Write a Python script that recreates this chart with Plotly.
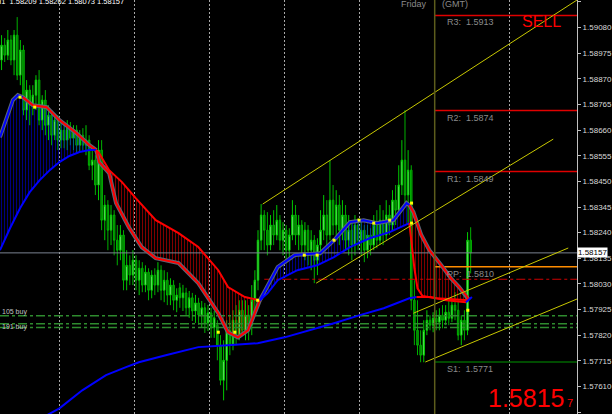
import plotly.graph_objects as go

# ---------------- data ----------------
bar_index = list(range(151))
opens = [1.58947,1.59008,1.58967,1.59029,1.58947,1.59049,1.58885,1.58988,1.58742,1.58824,
1.58762,1.58803,1.58865,1.58701,1.58783,1.58680,1.58721,1.58639,1.58701,1.58619,
1.58660,1.58619,1.58668,1.58627,1.58660,1.58598,1.58639,1.58598,1.58619,1.58516,
1.58537,1.58435,1.58578,1.58291,1.58353,1.58250,1.58312,1.58209,1.58168,1.58230,
1.58045,1.58106,1.58066,1.58127,1.58045,1.58094,1.58025,1.58078,1.58004,1.58066,
1.58025,1.58086,1.58004,1.58045,1.57984,1.58025,1.57963,1.58014,1.57973,1.57993,
1.57932,1.57973,1.57919,1.57952,1.57903,1.57932,1.57870,1.57911,1.57850,1.57861,
1.57779,1.57635,1.57717,1.57840,1.57779,1.57881,1.57820,1.57922,1.57840,1.57902,
1.57861,1.57963,1.58045,1.58209,1.58312,1.58250,1.58189,1.58271,1.58230,1.58291,
1.58209,1.58250,1.58168,1.58230,1.58312,1.58230,1.58271,1.58189,1.58250,1.58168,
1.58209,1.58127,1.58189,1.58250,1.58312,1.58230,1.58373,1.58271,1.58353,1.58250,
1.58312,1.58209,1.58250,1.58189,1.58271,1.58209,1.58250,1.58168,1.58230,1.58189,
1.58271,1.58209,1.58291,1.58230,1.58312,1.58271,1.58373,1.58332,1.58435,1.58537,
1.58394,1.58496,1.57963,1.57840,1.57779,1.57738,1.57840,1.57881,1.57861,1.57889,
1.57873,1.57902,1.57881,1.57914,1.57889,1.57943,1.57922,1.57820,1.57881,1.57840,
1.58209]
closes = [1.59008,1.58967,1.59029,1.58947,1.59049,1.58885,1.58988,1.58742,1.58824,1.58762,
1.58803,1.58865,1.58701,1.58783,1.58680,1.58721,1.58639,1.58701,1.58619,1.58660,
1.58619,1.58668,1.58627,1.58660,1.58598,1.58639,1.58598,1.58619,1.58516,1.58537,
1.58435,1.58578,1.58291,1.58353,1.58250,1.58312,1.58209,1.58168,1.58230,1.58045,
1.58106,1.58066,1.58127,1.58045,1.58094,1.58025,1.58078,1.58004,1.58066,1.58025,
1.58086,1.58004,1.58045,1.57984,1.58025,1.57963,1.57984,1.57973,1.57993,1.57932,
1.57973,1.57919,1.57952,1.57903,1.57932,1.57870,1.57911,1.57850,1.57891,1.57779,
1.57635,1.57717,1.57840,1.57779,1.57881,1.57820,1.57922,1.57840,1.57902,1.57861,
1.57963,1.58045,1.58209,1.58312,1.58250,1.58189,1.58271,1.58230,1.58291,1.58209,
1.58250,1.58168,1.58230,1.58312,1.58230,1.58271,1.58189,1.58250,1.58168,1.58209,
1.58127,1.58189,1.58250,1.58312,1.58230,1.58373,1.58271,1.58353,1.58250,1.58312,
1.58209,1.58250,1.58189,1.58271,1.58209,1.58250,1.58168,1.58230,1.58189,1.58271,
1.58209,1.58291,1.58230,1.58312,1.58271,1.58373,1.58332,1.58435,1.58537,1.58394,
1.58496,1.57963,1.57840,1.57779,1.57738,1.57840,1.57881,1.57861,1.57889,1.57873,
1.57902,1.57881,1.57914,1.57889,1.57943,1.57922,1.57820,1.57881,1.57840,1.58209,
1.58157]
highs = [1.59049,1.59037,1.59070,1.59049,1.59070,1.59123,1.59029,1.59008,1.58865,1.58844,
1.58844,1.58885,1.58906,1.58803,1.58824,1.58762,1.58742,1.58721,1.58721,1.58701,
1.58680,1.58701,1.58693,1.58680,1.58680,1.58660,1.58668,1.58680,1.58639,1.58578,
1.58557,1.58619,1.58619,1.58394,1.58373,1.58353,1.58332,1.58271,1.58271,1.58250,
1.58168,1.58147,1.58168,1.58147,1.58127,1.58119,1.58106,1.58094,1.58086,1.58094,
1.58119,1.58106,1.58086,1.58078,1.58053,1.58045,1.58012,1.58034,1.58026,1.58014,
1.58001,1.57993,1.57985,1.57973,1.57960,1.57952,1.57944,1.57932,1.57919,1.57881,
1.57820,1.57799,1.57881,1.57902,1.57922,1.57943,1.57963,1.57963,1.57963,1.57943,
1.58025,1.58086,1.58250,1.58357,1.58332,1.58324,1.58312,1.58332,1.58353,1.58312,
1.58283,1.58271,1.58258,1.58373,1.58353,1.58312,1.58291,1.58283,1.58271,1.58250,
1.58230,1.58217,1.58332,1.58394,1.58373,1.58537,1.58435,1.58414,1.58394,1.58373,
1.58353,1.58312,1.58291,1.58312,1.58299,1.58291,1.58271,1.58271,1.58258,1.58312,
1.58332,1.58353,1.58332,1.58373,1.58353,1.58414,1.58435,1.58516,1.58619,1.58742,
1.58578,1.58516,1.58045,1.57963,1.57840,1.57881,1.57922,1.57902,1.57914,1.57922,
1.57930,1.57943,1.57943,1.57963,1.57971,1.57996,1.57963,1.57902,1.57922,1.58242,
1.58262]
lows = [1.58906,1.58939,1.58947,1.58926,1.58885,1.58865,1.58844,1.58721,1.58701,1.58680,
1.58721,1.58742,1.58680,1.58660,1.58639,1.58619,1.58598,1.58619,1.58578,1.58586,
1.58586,1.58578,1.58598,1.58578,1.58570,1.58570,1.58578,1.58557,1.58496,1.58455,
1.58394,1.58373,1.58250,1.58209,1.58168,1.58189,1.58147,1.58106,1.58127,1.58004,
1.58004,1.58025,1.58025,1.58004,1.57984,1.57996,1.57996,1.57963,1.57971,1.57984,
1.57996,1.57963,1.57955,1.57943,1.57943,1.57922,1.57914,1.57932,1.57919,1.57903,
1.57891,1.57878,1.57870,1.57862,1.57850,1.57829,1.57837,1.57809,1.57809,1.57717,
1.57615,1.57553,1.57594,1.57738,1.57758,1.57779,1.57799,1.57820,1.57799,1.57799,
1.57820,1.57922,1.58004,1.58168,1.58168,1.58147,1.58168,1.58189,1.58209,1.58168,
1.58147,1.58127,1.58135,1.58209,1.58189,1.58168,1.58147,1.58127,1.58106,1.58086,
1.58033,1.58066,1.58147,1.58209,1.58189,1.58209,1.58230,1.58209,1.58189,1.58209,
1.58168,1.58147,1.58127,1.58147,1.58168,1.58147,1.58119,1.58135,1.58147,1.58168,
1.58176,1.58189,1.58189,1.58209,1.58230,1.58250,1.58271,1.58312,1.58394,1.58353,
1.58271,1.57922,1.57779,1.57738,1.57709,1.57709,1.57820,1.57840,1.57832,1.57840,
1.57840,1.57848,1.57861,1.57861,1.57873,1.57881,1.57799,1.57779,1.57799,1.57820,
1.58073]

# price axis
price_ticks = [1.59185,1.59080,1.58975,1.58870,1.58765,1.58660,1.58555,1.58450,1.58345,
               1.58240,1.58135,1.58030,1.57925,1.57820,1.57715,1.57610,1.57505]
tick_labels = ["%.5f" % v for v in price_ticks]
day_separators = [18.5, 42.5, 66.5, 90.5, 114.5, 162.5]
friday_start = 138.5

# pivot levels
pivot_names = ["R3", "R2", "R1", "PP", "S1"]
pivot_values = [1.5913, 1.5874, 1.5849, 1.5810, 1.5771]
pivot_colors = ["#e00000", "#e00000", "#e00000", "#ff8c00", "#006400"]

last_price = 1.58157
signal_level = 1.58049
buy_levels = [1.57900, 1.57867, 1.57851]
buy_labels = ["105 buy", "", "191 buy"]

# trend channels (bar index, price)
chan1_top_x = [83.5, 184.0];  chan1_top_y = [1.58357, 1.59193]
chan1_bot_x = [100.6, 176.4]; chan1_bot_y = [1.58033, 1.58623]
chan2_top_x = [131.7, 181.2]; chan2_top_y = [1.57910, 1.58177]
chan2_bot_x = [135.5, 184.0]; chan2_bot_y = [1.57710, 1.57968]

# MA cloud: fast line / slow line per segment
blue1_fast_x = [-0.5, 1.7, 3.6, 5.2, 6.8, 10.0, 14.4, 18.5, 23.9, 28.1, 30.3]
blue1_fast_y = [1.58631, 1.58713, 1.58783, 1.58803, 1.58795, 1.58762, 1.58754, 1.58701,
                1.58648, 1.58598, 1.58578]
blue1_slow_x = [-0.5, 2.7, 5.9, 9.0, 12.2, 15.4, 18.5, 21.7, 24.9, 28.1, 30.3]
blue1_slow_y = [1.58168, 1.58258, 1.58340, 1.58406, 1.58455, 1.58496, 1.58529, 1.58554,
                1.58570, 1.58578, 1.58578]

red1_slow_x = [30.3, 31.2, 34.4, 38.5, 42.9, 49.3, 56.6, 62.9, 69.3, 72.4, 77.8, 82.6]
red1_slow_y = [1.58578, 1.58566, 1.58496, 1.58447, 1.58381, 1.58291, 1.58238, 1.58181,
               1.58086, 1.58017, 1.57976, 1.57963]
red1_fast_x = [30.3, 31.2, 34.4, 36.6, 40.7, 44.8, 49.3, 56.6, 62.9, 69.3, 72.4, 75.6, 78.8, 80.7, 82.6]
red1_fast_y = [1.58578, 1.58529, 1.58484, 1.58361, 1.58262, 1.58181, 1.58135, 1.58115,
               1.58033, 1.57910, 1.57832, 1.57811, 1.57840, 1.57902, 1.57963]

blue2_fast_x = [82.6, 85.1, 88.3, 93.7, 98.7, 101.9, 106.3, 111.4, 115.8, 120.0, 125.3, 129.5, 130.4]
blue2_fast_y = [1.57963, 1.58025, 1.58099, 1.58148, 1.58152, 1.58156, 1.58209, 1.58283,
                1.58291, 1.58279, 1.58291, 1.58361, 1.58353]
blue2_slow_x = [82.6, 85.1, 88.3, 94.6, 100.9, 106.3, 111.4, 117.7, 124.1, 128.0, 130.4]
blue2_slow_y = [1.57963, 1.57992, 1.58045, 1.58086, 1.58106, 1.58140, 1.58181, 1.58217,
                1.58242, 1.58267, 1.58279]

red2_fast_x = [130.4, 131.7, 134.2, 136.8, 140.6, 143.7, 146.3, 148.5, 149.5]
red2_fast_y = [1.58353, 1.58324, 1.58230, 1.58168, 1.58107, 1.58053, 1.58017, 1.57984, 1.57963]
red2_slow_x = [130.4, 132.0, 133.0, 134.6, 139.0, 143.7, 148.5, 149.5]
red2_slow_y = [1.58279, 1.58094, 1.58012, 1.57980, 1.57971, 1.57967, 1.57963, 1.57963]

# signal dots on the MA lines
dot_x = [5.9, 10.6, 69.3, 74.6, 81.9, 96.8, 100.9, 106.3, 114.3, 119.0, 124.1, 131.1, 131.1, 149.1]
dot_y = [1.58795, 1.58754, 1.57832, 1.57832, 1.57963, 1.58148, 1.58148, 1.58209, 1.58291,
         1.58279, 1.58291, 1.58361, 1.58279, 1.57922]

# slow trend MA
slow_blue_x = [14.2, 18.5, 25.8, 33.4, 39.8, 43.9, 52.5, 62.9, 72.4, 81.9, 90.5, 98.7, 106.3,
               114.6, 122.2, 130.4, 132.7]
slow_blue_y = [1.57490, 1.57520, 1.57594, 1.57656, 1.57689, 1.57709, 1.57738, 1.57771, 1.57779,
               1.57787, 1.57811, 1.57840, 1.57869, 1.57902, 1.57930, 1.57971, 1.57976]
slow_red_x = [132.7, 137.0, 142.2, 148.5]
slow_red_y = [1.57976, 1.57976, 1.57963, 1.57955]
slow_tail_x = [148.5, 150.4]
slow_tail_y = [1.57955, 1.57976]

X_MAX = 184.0
FONT = "Liberation Sans, Arial, sans-serif"
RED, BLUE = "#ff0000", "#0000ff"

fig = go.Figure()

def cloud(a_x, a_y, b_x, b_y, color):
    fig.add_trace(go.Scatter(x=a_x, y=a_y, mode="lines", line=dict(width=0, color=color),
                             hoverinfo="skip", showlegend=False))
    fig.add_trace(go.Scatter(x=b_x, y=b_y, mode="lines", line=dict(width=0, color=color),
                             fill="tonexty", fillcolor="rgba(0,0,0,0)",
                             fillpattern=dict(shape="|", fgcolor=color, bgcolor="rgba(0,0,0,0)",
                                              size=3, solidity=0.34),
                             hoverinfo="skip", showlegend=False))

cloud(blue1_slow_x, blue1_slow_y, blue1_fast_x, blue1_fast_y, BLUE)
cloud(red1_fast_x, red1_fast_y, red1_slow_x, red1_slow_y, RED)
cloud(blue2_slow_x, blue2_slow_y, blue2_fast_x, blue2_fast_y, BLUE)
cloud(red2_slow_x, red2_slow_y, red2_fast_x, red2_fast_y, RED)

def line(xs, ys, color, width=1, dash=None):
    fig.add_trace(go.Scatter(x=xs, y=ys, mode="lines",
                             line=dict(color=color, width=width, dash=dash),
                             hoverinfo="skip", showlegend=False))

# horizontal levels
line([-0.5, X_MAX], [last_price, last_price], "#7a8290", 1)
line([84, X_MAX], [signal_level, signal_level], "#d00000", 1, "dashdot")
for lv in buy_levels:
    line([-0.5, X_MAX], [lv, lv], "#2e8b2e", 1.5, "dashdot")
for v, c in zip(pivot_values, pivot_colors):
    line([friday_start, X_MAX], [v, v], c, 1.5)

# candles
fig.add_trace(go.Candlestick(x=bar_index, open=opens, high=highs, low=lows, close=closes,
                             increasing=dict(line=dict(color="#00c800", width=1), fillcolor="#90ee90"),
                             decreasing=dict(line=dict(color="#00b000", width=1), fillcolor="#007a00"),
                             whiskerwidth=0, hoverinfo="skip", showlegend=False))

# MA lines (gray shadow under fast line)
for xs, ys in [(blue1_fast_x, blue1_fast_y), (red1_fast_x, red1_fast_y),
               (blue2_fast_x, blue2_fast_y), (red2_fast_x, red2_fast_y)]:
    line(xs, ys, "#5a6878", 4)
line(blue1_fast_x[:5], blue1_fast_y[:5], BLUE, 2)
line(blue1_fast_x[4:], blue1_fast_y[4:], RED, 2)
line(blue1_slow_x, blue1_slow_y, BLUE, 2)
line(red1_slow_x, red1_slow_y, RED, 2)
line(red1_fast_x, red1_fast_y, RED, 2)
line(blue2_fast_x, blue2_fast_y, BLUE, 2)
line(blue2_slow_x, blue2_slow_y, BLUE, 2)
line(red2_fast_x, red2_fast_y, RED, 2)
line(red2_slow_x, red2_slow_y, RED, 2)

line(slow_blue_x, slow_blue_y, BLUE, 2)
line(slow_red_x, slow_red_y, RED, 2)
line(slow_tail_x, slow_tail_y, BLUE, 2)

fig.add_trace(go.Scatter(x=dot_x, y=dot_y, mode="markers",
                         marker=dict(symbol="square", size=3, color="#ffff00"),
                         hoverinfo="skip", showlegend=False))

# channels
for xs, ys in [(chan1_top_x, chan1_top_y), (chan1_bot_x, chan1_bot_y),
               (chan2_top_x, chan2_top_y), (chan2_bot_x, chan2_bot_y)]:
    line(xs, ys, "#c8c800", 1)

# friday separator
fig.add_shape(type="line", xref="x", yref="paper", x0=friday_start, x1=friday_start, y0=0, y1=1,
              line=dict(color="#5c5c1c", width=1.5))

ann = []
for n, v in zip(pivot_names, pivot_values):
    ann.append(dict(x=141.7, y=v, xref="x", yref="y", text="%s:  %.4f" % (n, v), showarrow=False,
                    xanchor="left", yanchor="middle", yshift=-7,
                    font=dict(family=FONT, size=9, color="#8a8a8a")))
for lv, t in zip(buy_levels, buy_labels):
    if t:
        ann.append(dict(x=0, y=lv, xref="paper", yref="y", text=t, showarrow=False,
                        xanchor="left", yanchor="middle", yshift=4 if t.startswith("105") else 1,
                        font=dict(family=FONT, size=7, color="#c0c0c0")))
ann += [
    dict(x=127/582, y=1, xref="paper", yref="paper", text="GBPUSD,H1  1.58209 1.58262 1.58073 1.58157",
         showarrow=False, xanchor="right", yanchor="middle", yshift=-1,
         font=dict(family=FONT, size=7.5, color="#ffffff")),
    dict(x=433/582, y=1, xref="paper", yref="paper", text="Friday", showarrow=False,
         xanchor="right", yanchor="middle", yshift=-4, font=dict(family=FONT, size=9, color="#8a8a8a")),
    dict(x=444/582, y=1, xref="paper", yref="paper", text="(GMT)", showarrow=False,
         xanchor="left", yanchor="middle", yshift=-4, font=dict(family=FONT, size=9, color="#8a8a8a")),
    dict(x=172.6, y=1.59103, xref="x", yref="y", text="SELL", showarrow=False,
         font=dict(family=FONT, size=16, color="#ff0000")),
    dict(x=167.6, y=1.57561, xref="x", yref="y", text="1.5815", showarrow=False,
         font=dict(family=FONT, size=25, color="#ff0000")),
    dict(x=181.9, y=1.57541, xref="x", yref="y", text="7", showarrow=False,
         font=dict(family=FONT, size=11, color="#ff0000")),
    dict(x=1, y=last_price, xref="paper", yref="y", text="1.58157", showarrow=False,
         xanchor="left", yanchor="middle", bgcolor="#ffffff", borderpad=0,
         font=dict(family=FONT, size=8, color="#000000")),
]

fig.update_layout(
    width=612, height=414, margin=dict(l=0, r=30, t=0, b=0),
    paper_bgcolor="#000000", plot_bgcolor="#000000",
    showlegend=False, annotations=ann,
    xaxis=dict(range=[-0.5, X_MAX], tickvals=day_separators, showticklabels=False,
               showgrid=True, gridcolor="#a8a8a8", griddash="2px,2px", gridwidth=1,
               zeroline=False, rangeslider=dict(visible=False), ticks=""),
    yaxis=dict(range=[1.57497, 1.59193], side="right", tickvals=price_ticks, ticktext=tick_labels,
               showgrid=False, zeroline=False, showline=True, linecolor="#c0c0c0", linewidth=1,
               ticks="outside", ticklen=3, tickcolor="#c0c0c0",
               tickfont=dict(family=FONT, size=8, color="#d8d8d8")),
)

fig.write_html("out.html", config={"displayModeBar": False},
               post_script="document.body.style.margin='0';document.body.style.padding='0';"
                           "document.body.style.overflow='hidden';document.body.style.background='#000';")
